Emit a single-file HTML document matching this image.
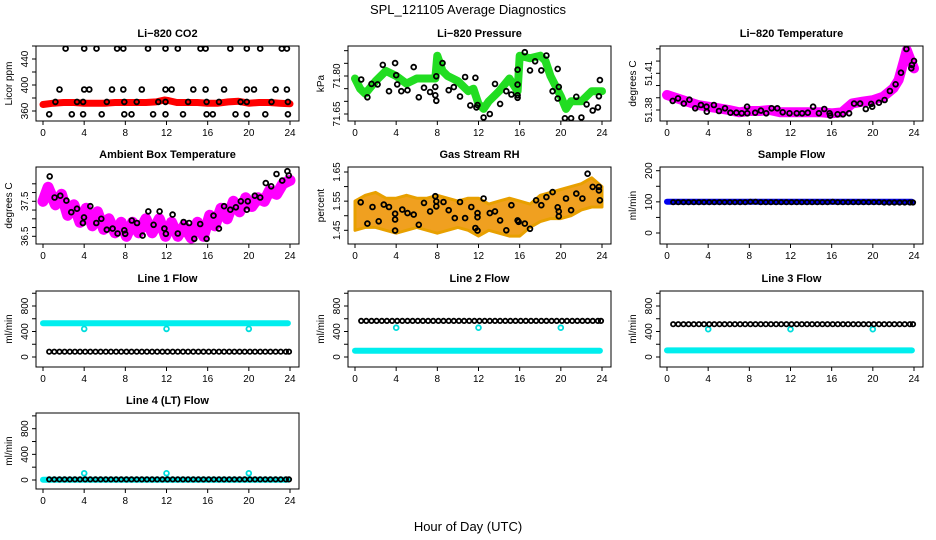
<!DOCTYPE html>
<html><head><meta charset="utf-8"><style>
html,body{margin:0;padding:0;background:#fff;}
svg{display:block;font-family:"Liberation Sans",Arial,sans-serif;}
</style></head><body>
<svg id="root" width="936" height="540" viewBox="0 0 936 540">
<text x="468" y="14" text-anchor="middle" font-size="13">SPL_121105  Average Diagnostics</text>
<text x="468" y="531" text-anchor="middle" font-size="13">Hour of Day (UTC)</text>
</svg>
<script>
// ---------- data ----------
const xTicks = [0,4,8,12,16,20,24];
// CO2
const co2BandT = [0,1,2,3,4,5,6,7,8,9,10,11,11.8,12.2,13,14,15,16,17,18,19,20,21,22,23,24];
const co2BandV = [370,372,373,373,372,372,372,373,373,373,373,374,377,376,373,373,373,372,372,374,375,372,373,373,372,371];
const co2PtT = [2.2,4.0,5.2,7.2,7.8,10.2,11.9,13.1,15.3,15.8,18.2,19.8,21.1,23.2,23.7,1.6,4.0,4.5,6.7,7.8,9.6,11.9,12.5,14.6,15.8,17.6,19.8,20.5,22.6,23.7,1.2,3.3,3.9,6.2,7.9,9.1,11.2,11.9,14.1,15.9,17.1,19.2,19.8,22.2,23.8,0.6,2.8,3.9,5.7,7.9,8.6,10.7,11.9,13.6,15.9,16.5,18.7,19.8,21.6,23.8];
const co2PtV = [456,456,456,456,456,456,456,456,456,456,456,456,456,456,456,393,393,393,393,393,393,393,393,393,393,393,393,393,393,393,374,374,374,374,374,374,374,374,374,374,374,374,374,374,374,355,355,355,355,355,355,355,355,355,355,355,355,355,355,355];
// Pressure
const prBandT = [0,0.5,1,2,3,4,5,6,7,7.8,8,8.5,9,10,11,11.5,12,12.5,13,14,15,15.8,16,17,18,18.5,19,20,20.5,21,22,23,24];
const prBandV = [71.79,71.75,71.73,71.78,71.82,71.80,71.77,71.79,71.79,71.79,71.88,71.82,71.80,71.78,71.74,71.75,71.69,71.67,71.70,71.74,71.79,71.74,71.88,71.87,71.88,71.86,71.80,71.72,71.67,71.70,71.70,71.74,71.74];
const prPtT = [0.6,1.2,1.6,2.2,2.7,3.3,3.9,4.0,4.1,4.5,5.1,5.7,6.2,6.7,7.3,7.8,7.8,7.9,7.9,8.5,9.1,9.6,10.2,10.7,11.2,11.7,11.8,11.9,12.5,13.1,13.6,14.1,14.7,15.2,15.8,15.8,15.8,15.8,16.5,17.0,17.5,18.1,18.6,19.2,19.7,19.8,19.7,20.4,21.0,21.5,22.0,22.5,23.1,23.6,23.7,23.8];
const prPtV = [71.786,71.716,71.769,71.767,71.844,71.740,71.851,71.803,71.767,71.740,71.744,71.835,71.716,71.754,71.737,71.724,71.757,71.702,71.799,71.851,71.744,71.756,71.719,71.796,71.684,71.793,71.676,71.685,71.636,71.650,71.769,71.690,71.740,71.727,71.724,71.714,71.766,71.825,71.894,71.822,71.858,71.822,71.881,71.740,71.828,71.757,71.711,71.633,71.633,71.718,71.636,71.688,71.664,71.676,71.720,71.784];
// Li-820 temperature
const ltBandT = [0,1,2,3,4,5,6,7,8,9,10,11,12,13,14,15,16,17,18,19,20,21,22,22.5,23,23.3,23.6,24];
const ltBandV = [51.3923,51.3895,51.3868,51.3841,51.3827,51.3814,51.3800,51.3781,51.3792,51.3792,51.3800,51.3781,51.3781,51.3781,51.3781,51.3781,51.3773,51.3781,51.3854,51.3868,51.3880,51.3909,51.3977,51.4045,51.4195,51.4290,51.4223,51.4140];
const ltPtT = [0.55,1.07,1.63,2.18,2.74,3.29,3.84,3.87,4.56,5.05,5.64,6.16,6.74,7.26,7.78,7.8,8.57,9.12,9.64,10.16,10.72,11.24,11.9,12.6,13.13,13.68,14.2,14.76,15.28,15.8,15.86,16.58,17.1,17.69,18.18,18.76,19.32,19.84,19.94,20.59,21.14,21.66,22.21,22.74,23.26,23.74,23.8,24.0];
const ltPtV = [51.3874,51.3895,51.3852,51.3884,51.3814,51.3841,51.3827,51.3786,51.3841,51.3792,51.3814,51.3778,51.3778,51.3773,51.3827,51.3773,51.3778,51.3795,51.3773,51.3814,51.3814,51.3781,51.3773,51.3773,51.3773,51.3778,51.3827,51.3773,51.3808,51.3773,51.3754,51.3765,51.3765,51.3773,51.3852,51.3852,51.3808,51.3850,51.3827,51.3860,51.3882,51.3955,51.4010,51.4105,51.4299,51.4141,51.4168,51.4201];
// Ambient box temperature
const abBandT = [0,0.5,1.2,1.8,2.4,3.0,3.6,4.2,4.8,5.3,5.9,6.4,7.0,7.6,8.1,8.7,9.3,10.0,10.6,11.3,11.9,12.5,13.1,13.7,14.4,15.0,15.6,16.2,16.7,17.3,17.9,18.5,19.1,19.7,20.3,20.9,21.5,22.0,22.7,23.3,24];
const abBandV = [37.5,37.9,37.4,37.7,37.1,37.4,36.9,37.3,36.8,37.2,36.7,37.0,36.6,36.9,36.5,36.9,36.6,37.0,36.6,37.0,36.5,36.9,36.5,36.8,36.45,36.9,36.5,37.1,36.8,37.3,37.0,37.5,37.2,37.6,37.35,37.6,37.5,37.8,37.7,38.0,38.1];
const abPtT = [0.65,1.13,1.68,2.27,2.75,3.3,3.88,3.98,4.6,5.18,5.66,6.2,6.76,7.25,7.9,7.99,8.63,9.13,9.68,10.23,10.75,11.33,11.8,11.94,12.59,13.1,13.66,14.2,14.7,15.27,15.9,16.57,17.09,17.6,18.2,18.74,19.22,19.8,19.9,20.58,21.1,21.65,22.17,22.69,23.24,23.75,23.88];
const abPtV = [38.21,37.61,37.66,37.52,37.19,37.29,36.88,37.04,37.36,36.88,37.0,36.69,36.72,36.58,36.67,36.57,36.95,36.88,36.52,37.21,36.83,37.21,36.72,36.57,37.12,36.58,36.91,36.88,36.43,36.85,36.43,37.09,36.72,37.36,37.26,37.33,37.5,37.26,37.5,37.66,37.61,38.02,37.93,38.28,38.09,38.36,38.24];
// Gas stream RH
const rhBandT = [0,1,2,3,4,5,6,7,8,9,10,11,12,13,14,15,16,17,18,19,20,21,22,23,24];
const rhBandHi = [1.55,1.57,1.58,1.56,1.56,1.57,1.56,1.56,1.57,1.56,1.55,1.56,1.56,1.54,1.55,1.56,1.55,1.54,1.57,1.58,1.59,1.60,1.61,1.63,1.60];
const rhBandLo = [1.45,1.46,1.46,1.45,1.44,1.45,1.46,1.45,1.44,1.45,1.46,1.45,1.43,1.45,1.44,1.43,1.43,1.46,1.48,1.49,1.49,1.50,1.52,1.53,1.53];
const rhPtT = [0.55,1.2,1.7,2.3,2.8,3.3,3.9,3.9,3.9,4.6,5.1,5.7,6.2,6.7,7.3,7.8,7.9,7.9,8.6,9.1,9.7,10.2,10.7,11.3,11.7,11.9,11.9,11.9,12.5,13.1,13.6,14.1,14.7,15.2,15.8,15.9,16.5,17.0,17.6,18.1,18.6,19.2,19.7,19.8,19.8,20.5,21.0,21.5,22.1,22.6,23.1,23.7,23.7,23.8];
const rhPtV = [1.546,1.473,1.53,1.481,1.538,1.53,1.507,1.487,1.449,1.521,1.509,1.504,1.469,1.544,1.515,1.567,1.532,1.549,1.547,1.519,1.492,1.547,1.492,1.53,1.458,1.449,1.509,1.495,1.559,1.509,1.515,1.484,1.45,1.536,1.484,1.479,1.473,1.455,1.553,1.536,1.564,1.581,1.529,1.515,1.498,1.559,1.519,1.576,1.559,1.644,1.599,1.599,1.587,1.553];
// Flows (half-hourly samples)
const flowT = [0.6,1.1,1.6,2.1,2.6,3.1,3.6,4.1,4.6,5.1,5.6,6.1,6.6,7.1,7.6,8.1,8.6,9.1,9.6,10.1,10.6,11.1,11.6,12.1,12.6,13.1,13.6,14.1,14.6,15.1,15.6,16.1,16.6,17.1,17.6,18.1,18.6,19.1,19.6,20.1,20.6,21.1,21.6,22.1,22.6,23.1,23.6,23.9];
const bandT = [0,4,8,12,16,20,23.8];
const dipT = [4,12,20];
const sampleBlack = [99,99,99,99,99,99,99,99,99,99,99,99,99,99,99,100,100,99,99,99,99,99,99,99,99,99,99,99,99,99,99,100,99,99,99,99,99,99,99,99,99,98,98,98,98,98,98,98];
const sampleBlue = [100,100,100,100,100,100,100];
const line1Black = [83,83,83,83,83,83,83,83,83,83,83,83,83,83,83,83,83,83,83,83,83,83,83,83,83,83,83,83,83,83,83,83,83,83,83,83,83,83,83,83,83,83,83,83,83,83,83,83];
const line1Cyan = [530,530,530,530,530,530,530];
const line1Dip = [440,440,440];
const line2Black = [566,566,566,566,566,566,566,566,566,566,566,566,566,566,566,566,566,566,566,566,566,566,566,566,566,566,566,566,566,566,566,566,566,566,566,566,566,566,566,566,566,566,566,566,566,566,566,566];
const line2Cyan = [99,99,99,99,99,99,99];
const line2Dip = [460,460,460];
const line3Black = [515,515,515,515,515,515,515,515,515,515,515,515,515,515,515,515,515,515,515,515,515,515,515,515,515,515,515,515,515,515,515,515,515,515,515,515,515,515,515,515,515,515,515,515,515,515,515,515];
const line3Cyan = [104,104,104,104,104,104,104];
const line3Dip = [436,436,436];
const line4Black = [10,10,10,10,10,10,10,10,10,10,10,10,10,10,10,10,10,10,10,10,10,10,10,10,10,10,10,10,10,10,10,10,10,10,10,10,10,10,10,10,10,10,10,10,10,10,10,10];
const line4Cyan = [5,5,5,5,5,5,5];
const line4Dip = [104,104,104];

// ---------- drawing ----------
const NS = "http://www.w3.org/2000/svg";
const root = document.getElementById('root');
function mk(tag, attrs, parent){ const e=document.createElementNS(NS,tag); for(const k in attrs) e.setAttribute(k,attrs[k]); (parent||root).appendChild(e); return e; }

function panel(cfg){
  const L=cfg.L, R=L+263, T=cfg.T, B=cfg.B;
  const g = mk('g',{});
  
  
  const x = t => L+7 + t*(247/24);
  const y = v => cfg.y1 + (v-cfg.v1)*(cfg.y2-cfg.y1)/(cfg.v2-cfg.v1);
  const t = mk('text',{x:L+131.5,y:T-9,'text-anchor':'middle','font-size':11,'font-weight':'bold'},g);
  t.textContent = cfg.title;
  
  
  const clip = 'c'+cfg.name;
  const cp = mk('clipPath',{id:clip},g); mk('rect',{x:L,y:T,width:263,height:B-T},cp);
  const plot = mk('g',{'clip-path':'url(#'+clip+')'},g);
  cfg.draw(plot,x,y);
  const box = mk('rect',{x:L,y:T,width:263,height:B-T,fill:'none',stroke:'#000','stroke-width':1},g);
  
  
  xTicks.forEach(v=>{
    const px=x(v);
    mk('line',{x1:px,y1:B,x2:px,y2:B+4,stroke:'#000'},g);
    const lb=mk('text',{x:px,y:B+15,'text-anchor':'middle','font-size':10},g);
    lb.textContent=v;
    
    
  });
  cfg.yTicks.forEach(v=>{
    const py=y(v);
    if(py<T-1||py>B+1) return;
    mk('line',{x1:L-4,y1:py,x2:L,y2:py,stroke:'#000'},g);
  });
  cfg.yLabels.forEach((v,i)=>{
    const py=y(v);
    const lb=mk('text',{x:L-8,y:py,'text-anchor':'middle','font-size':10,transform:'rotate(-90 '+(L-8)+' '+py+')'},g);
    lb.textContent=cfg.yLabelText[i];
    
    
  });
  const yt=mk('text',{x:L-24,y:(T+B)/2,'text-anchor':'middle','font-size':10,transform:'rotate(-90 '+(L-24)+' '+((T+B)/2)+')'},g);
  yt.textContent=cfg.ylab;
  
  
}
function band(p,ts,vs,x,y,color,w,name){
  const d=ts.map((t,i)=>(i?'L':'M')+x(t).toFixed(1)+' '+y(vs[i]).toFixed(1)).join(' ');
  const e=mk('path',{d:d,fill:'none',stroke:color,'stroke-width':w,'stroke-linejoin':'round','stroke-linecap':'round'},p);
  
  
}
function pts(p,ts,vs,x,y,color,r,sw,name){
  ts.forEach((t,i)=>{
    const c=mk('circle',{cx:x(t).toFixed(1),cy:y(vs[i]).toFixed(1),r:r,fill:'none',stroke:color,'stroke-width':sw},p);
    
    
  });
}
const C1=36,C2=348,C3=660;
const flowTicks=[0,200,400,600,800,1000];

panel({name:'co2-panel',title:'Li\u2212820 CO2',L:C1,T:46,B:121,v1:360,y1:111,v2:440,y2:59,
  yTicks:[360,380,400,420,440,460],yLabels:[360,400,440],yLabelText:['360','400','440'],ylab:'Licor ppm',
  draw:(p,x,y)=>{ band(p,co2BandT,co2BandV,x,y,'#ff0000',7,'co2-band'); pts(p,co2PtT,co2PtV,x,y,'#000',2.4,1.8,'co2-point'); }});
panel({name:'pressure-panel',title:'Li\u2212820 Pressure',L:C2,T:46,B:121,v1:71.65,y1:114,v2:71.80,y2:76,
  yTicks:[71.65,71.70,71.75,71.80,71.85,71.90],yLabels:[71.65,71.80],yLabelText:['71.65','71.80'],ylab:'kPa',
  draw:(p,x,y)=>{ band(p,prBandT,prBandV,x,y,'#22dd22',8,'pressure-band'); pts(p,prPtT,prPtV,x,y,'#000',2.4,1.8,'pressure-point'); }});
panel({name:'li820-temp-panel',title:'Li\u2212820 Temperature',L:C3,T:46,B:121,v1:51.38,y1:110,v2:51.41,y2:73.3,
  yTicks:[51.37,51.38,51.39,51.40,51.41,51.42,51.43],yLabels:[51.38,51.41],yLabelText:['51.38','51.41'],ylab:'degrees C',
  draw:(p,x,y)=>{ band(p,ltBandT,ltBandV,x,y,'#ff00ff',10,'temp-band'); pts(p,ltPtT,ltPtV,x,y,'#000',2.4,1.8,'temp-point'); }});
panel({name:'ambient-panel',title:'Ambient Box Temperature',L:C1,T:167,B:244,v1:36.5,y1:236.3,v2:37.5,y2:201.3,
  yTicks:[36.5,36.75,37,37.25,37.5,37.75,38],yLabels:[36.5,37.5],yLabelText:['36.5','37.5'],ylab:'degrees C',
  draw:(p,x,y)=>{ band(p,abBandT,abBandV,x,y,'#ff00ff',11,'ambient-band'); pts(p,abPtT,abPtV,x,y,'#000',2.4,1.8,'ambient-point'); }});
panel({name:'rh-panel',title:'Gas Stream RH',L:C2,T:167,B:244,v1:1.45,y1:230.3,v2:1.65,y2:172,
  yTicks:[1.45,1.50,1.55,1.60,1.65],yLabels:[1.45,1.55,1.65],yLabelText:['1.45','1.55','1.65'],ylab:'percent',
  draw:(p,x,y)=>{
    const d=rhBandT.map((t,i)=>(i?'L':'M')+x(t).toFixed(1)+' '+y(rhBandHi[i]).toFixed(1)).join(' ')+' '+rhBandT.slice().reverse().map((t,i)=>'L'+x(t).toFixed(1)+' '+y(rhBandLo[rhBandT.length-1-i]).toFixed(1)).join(' ')+'Z';
    const e=mk('path',{d:d,fill:'#f0a020',stroke:'#e8a000','stroke-width':3,'stroke-linejoin':'round'},p);
    
    
    pts(p,rhPtT,rhPtV,x,y,'#000',2.4,1.8,'rh-point'); }});
panel({name:'sample-flow-panel',title:'Sample Flow',L:C3,T:167,B:244,v1:0,y1:233,v2:200,y2:170.7,
  yTicks:[0,50,100,150,200],yLabels:[0,100,200],yLabelText:['0','100','200'],ylab:'ml/min',
  draw:(p,x,y)=>{ band(p,bandT,sampleBlue,x,y,'#0000ee',6,'sample-band'); pts(p,flowT,sampleBlack,x,y,'#000',2.2,1.8,'sample-point'); }});
function flowPanel(name,title,L,T,B,z0,z8,black,cyan,dip){
  panel({name:name,title:title,L:L,T:T,B:B,v1:0,y1:z0,v2:800,y2:z8,
    yTicks:flowTicks,yLabels:[0,400,800],yLabelText:['0','400','800'],ylab:'ml/min',
    draw:(p,x,y)=>{ band(p,bandT,cyan,x,y,'#00eeee',6,'cyan-band'); pts(p,dipT,dip,x,y,'#00dddd',2.4,1.8,'cyan-dip'); pts(p,flowT,black,x,y,'#000',2.2,1.8,'flow-point'); }});
}
flowPanel('line1-panel','Line 1 Flow',C1,291,367,357,306,line1Black,line1Cyan,line1Dip);
flowPanel('line2-panel','Line 2 Flow',C2,291,367,357,306,line2Black,line2Cyan,line2Dip);
flowPanel('line3-panel','Line 3 Flow',C3,291,367,357,306,line3Black,line3Cyan,line3Dip);
flowPanel('line4-panel','Line 4 (LT) Flow',C1,413,489,480,428.7,line4Black,line4Cyan,line4Dip);
</script>
</body></html>
